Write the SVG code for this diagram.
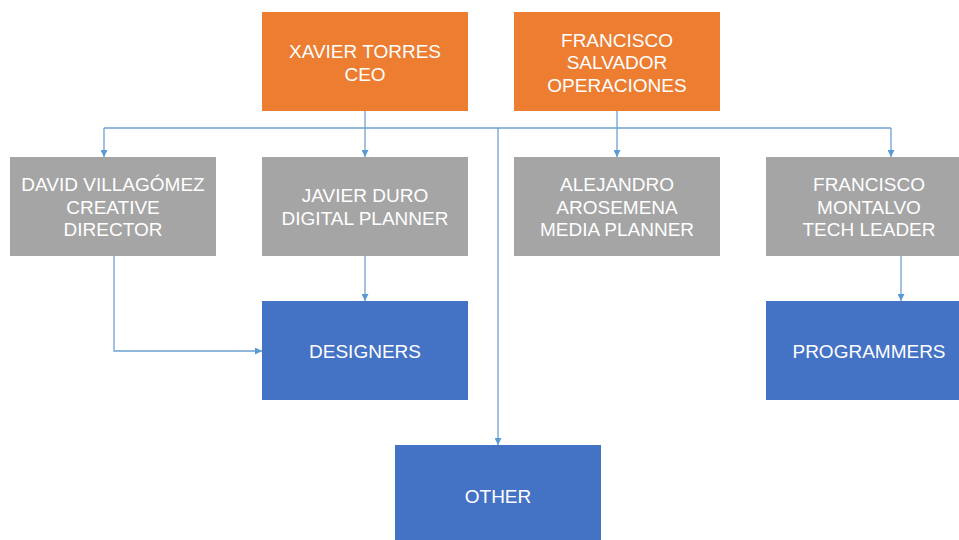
<svg xmlns="http://www.w3.org/2000/svg" width="959" height="540" viewBox="0 0 959 540">
<style>
.o{fill:#ED7D31}.g{fill:#A5A5A5}.b{fill:#4472C4}
text{font-family:"Liberation Sans",Arial,sans-serif;font-size:19px;fill:#fff;text-anchor:middle;dominant-baseline:central}
.c{fill:none;stroke:#6FA0D2;stroke-width:1.3}
</style>
<defs><marker id="a" viewBox="0 0 10 10" refX="10" refY="5" markerWidth="7" markerHeight="7" markerUnits="userSpaceOnUse" orient="auto"><path d="M0,0L10,5L0,10z" fill="#5B9BD5"/></marker></defs>
<rect width="959" height="540" fill="#fff"/>
<g id="connectors">
<path class="c" d="M104,128H891"/>
<path class="c" d="M104,128V157" marker-end="url(#a)"/>
<path class="c" d="M365,111V157" marker-end="url(#a)"/>
<path class="c" d="M617,111V157" marker-end="url(#a)"/>
<path class="c" d="M891,128V157" marker-end="url(#a)"/>
<path class="c" d="M498,128V445" marker-end="url(#a)"/>
<path class="c" d="M114,256V351H262" marker-end="url(#a)"/>
<path class="c" d="M365,256V301" marker-end="url(#a)"/>
<path class="c" d="M901,256V301" marker-end="url(#a)"/>
</g>
<g id="xavier"><rect class="o" x="262" y="12" width="206" height="99"/><text x="365" y="51">XAVIER TORRES</text><text x="365" y="74">CEO</text></g>
<g id="francisco_s"><rect class="o" x="514" y="12" width="206" height="99"/><text x="617" y="40">FRANCISCO</text><text x="617" y="62">SALVADOR</text><text x="617" y="85">OPERACIONES</text></g>
<g id="david"><rect class="g" x="10" y="157" width="206" height="99"/><text x="113" y="184">DAVID VILLAGÓMEZ</text><text x="113" y="207">CREATIVE</text><text x="113" y="229">DIRECTOR</text></g>
<g id="javier"><rect class="g" x="262" y="157" width="206" height="99"/><text x="365" y="195">JAVIER DURO</text><text x="365" y="218">DIGITAL PLANNER</text></g>
<g id="alejandro"><rect class="g" x="514" y="157" width="206" height="99"/><text x="617" y="184">ALEJANDRO</text><text x="617" y="207">AROSEMENA</text><text x="617" y="229">MEDIA PLANNER</text></g>
<g id="francisco_m"><rect class="g" x="766" y="157" width="206" height="99"/><text x="869" y="184">FRANCISCO</text><text x="869" y="207">MONTALVO</text><text x="869" y="229">TECH LEADER</text></g>
<g id="designers"><rect class="b" x="262" y="301" width="206" height="99"/><text x="365" y="351">DESIGNERS</text></g>
<g id="programmers"><rect class="b" x="766" y="301" width="206" height="99"/><text x="869" y="351">PROGRAMMERS</text></g>
<g id="other"><rect class="b" x="395" y="445" width="206" height="99"/><text x="498" y="496">OTHER</text></g>
</svg>
